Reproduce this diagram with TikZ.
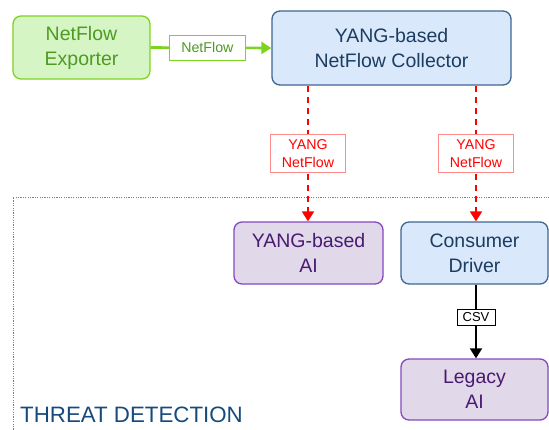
\documentclass[tikz,border=0pt]{standalone}
\usepackage{fontspec}
\setmainfont{Liberation Sans}
\usetikzlibrary{arrows.meta}
\definecolor{gfill}{HTML}{D5F5C5}
\definecolor{gdraw}{HTML}{7ED321}
\definecolor{gtext}{HTML}{4E9A22}
\definecolor{bfill}{HTML}{DAE8FC}
\definecolor{bdraw}{HTML}{3E6691}
\definecolor{btext}{HTML}{1C3D60}
\definecolor{pfill}{HTML}{E1D8EA}
\definecolor{pdraw}{HTML}{8447C0}
\definecolor{ptext}{HTML}{4A1A70}
\definecolor{rline}{HTML}{FF0000}
\definecolor{rbox}{HTML}{FF8A8A}
\definecolor{ttext}{HTML}{174A7C}
\tikzset{
  box/.style={rounded corners=8pt, line width=1.3pt, align=center, inner sep=0pt,
    font=\fontsize{19.5}{25}\selectfont},
  gbox/.style={box, fill=gfill, draw=gdraw, text=gtext},
  bbox/.style={box, fill=bfill, draw=bdraw, text=btext},
  pbox/.style={box, fill=pfill, draw=pdraw, text=ptext},
  lab/.style={solid, fill=white, inner sep=0pt, align=center, line width=0.8pt,
    font=\fontsize{14.2}{18}\selectfont},
  glab/.style={lab, draw=gdraw, text=gtext, minimum width=76pt, minimum height=25pt},
  rlab/.style={lab, draw=rbox, text=rline, minimum width=75pt, minimum height=38pt},
  klab/.style={lab, draw=black, text=black, minimum width=38pt, minimum height=16pt,
    font=\fontsize{13}{16}\selectfont},
  garrow/.style={draw=gdraw, line width=2.6pt, -{Triangle[width=12pt,length=10pt]}},
  rarrow/.style={draw=rline, line width=2.2pt, dash pattern=on 6pt off 5pt,
    -{Triangle[width=12pt,length=10pt]}},
  karrow/.style={draw=black, line width=1.8pt, -{Triangle[width=12pt,length=10pt]}},
}
\begin{document}
\begin{tikzpicture}[x=1pt,y=-1pt]
\useasboundingbox (0,0) rectangle (549,429);
% frame
\coordinate (fbl) at (13,432);
\coordinate (ftl) at (13,197);
\coordinate (ftr) at (552,197);
\draw[gray, line width=0.5pt, dash pattern=on 1.2pt off 1.2pt] (fbl) -- (ftl) -- (ftr);
\node[anchor=base west, text=ttext, inner sep=0pt, font=\fontsize{22.3}{26}\selectfont] (td) at (20,422) {THREAT DETECTION};
% nodes
\node[gbox, minimum width=137pt, minimum height=63pt] (exp) at (81.5,47.5) {NetFlow\\Exporter};
\node[bbox, minimum width=239pt, minimum height=74pt] (coll) at (391.5,48) {YANG-based\\NetFlow Collector};
\node[pbox, minimum width=149pt, minimum height=62pt] (yai) at (308.5,253) {YANG-based\\AI};
\node[bbox, minimum width=147pt, minimum height=62pt] (cd) at (474.5,253) {Consumer\\Driver};
\node[pbox, minimum width=147pt, minimum height=61pt] (lai) at (474.5,389.5) {Legacy\\AI};
% connectors
\draw[garrow] (exp.east) -- node[glab, pos=0.47] (l1) {NetFlow} (coll.west);
\coordinate (s1) at (308,85);
\coordinate (e1) at (308,222);
\coordinate (s2) at (476,85);
\coordinate (e2) at (476,222);
\draw[rarrow] (coll.south -| s1) -- node[rlab] (l2) {YANG\\NetFlow} (yai.north -| e1);
\draw[rarrow] (coll.south -| s2) -- node[rlab] (l3) {YANG\\NetFlow} (cd.north -| e2);
\draw[karrow] (cd.south -| s2) -- node[klab, pos=0.44] (l4) {CSV} (lai.north -| s2);
\end{tikzpicture}
\end{document}
